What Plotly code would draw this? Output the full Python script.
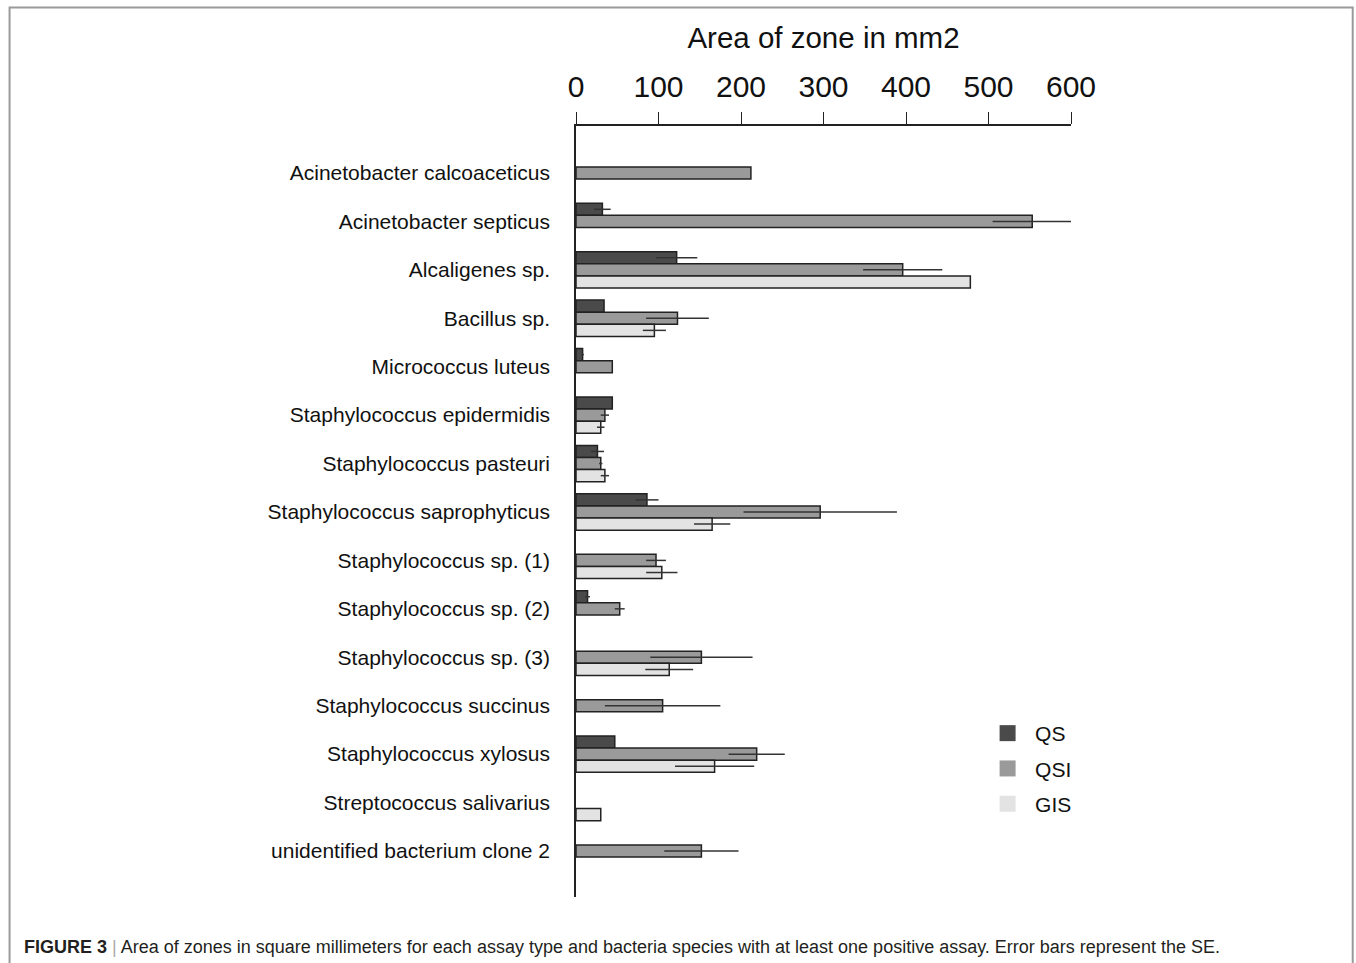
import plotly.graph_objects as go

categories = [
    "Acinetobacter calcoaceticus",
    "Acinetobacter septicus",
    "Alcaligenes sp.",
    "Bacillus sp.",
    "Micrococcus luteus",
    "Staphylococcus epidermidis",
    "Staphylococcus pasteuri",
    "Staphylococcus saprophyticus",
    "Staphylococcus sp. (1)",
    "Staphylococcus sp. (2)",
    "Staphylococcus sp. (3)",
    "Staphylococcus succinus",
    "Staphylococcus xylosus",
    "Streptococcus salivarius",
    "unidentified bacterium clone 2",
]

qs = [None, 32, 122, 34, 8, 44, 26, 86, None, 14, None, None, 47, None, None]
qs_err = [0, 10, 25, 0, 1.5, 0, 8, 14, 0, 3, 0, 0, 0, 0, 0]
qsi = [212, 553, 396, 123, 44, 35, 30, 296, 97, 53, 152, 105, 219, None, 152]
qsi_err = [0, 48, 48, 38, 0, 5, 2, 93, 12, 6, 62, 70, 34, 0, 45]
gis = [None, None, 478, 95, None, 30, 35, 165, 104, None, 113, None, 168, 30, None]
gis_err = [0, 0, 0, 14, 0, 4.5, 5, 22, 19, 0, 29, 0, 48, 0, 0]

x_ticks = [0, 100, 200, 300, 400, 500, 600]

series = [
    ("QS", qs, qs_err, "#4a4a4a"),
    ("QSI", qsi, qsi_err, "#9a9a9a"),
    ("GIS", gis, gis_err, "#e3e3e3"),
]

FONT = "Liberation Sans, Arial, Helvetica, sans-serif"

fig = go.Figure()
for name, vals, errs, col in series:
    fig.add_trace(go.Bar(
        y=categories, x=vals, orientation="h", name=name,
        marker=dict(color=col, line=dict(color="#222222", width=1.5)),
        error_x=dict(type="data", array=errs, visible=True, width=0,
                     thickness=1.5, color="#333333"),
        showlegend=False,
    ))
for name, vals, errs, col in series:
    fig.add_trace(go.Scatter(
        x=[None], y=[None], mode="markers", name=name,
        marker=dict(symbol="square", size=16, color=col, line=dict(width=0)),
        legendgroup=name, showlegend=True,
    ))

FW, FH = 1356, 963
# plot-area geometry in page pixels
L, R, T, B = 575.5, 1071.0, 126.0, 897.0
W, H = R - L, B - T
def px(p):
    return (p - L) / W
def py(q):
    return (B - q) / H

fig.update_layout(
    width=FW, height=FH,
    margin=dict(l=L, r=FW - R, t=T, b=FH - B, autoexpand=False),
    paper_bgcolor="white", plot_bgcolor="white",
    barmode="group", bargap=0.25, bargroupgap=0,
    font=dict(family=FONT, color="#111111"),
    xaxis=dict(
        side="top", range=[0, 600], tickvals=x_ticks,
        ticks="outside", ticklen=12, tickwidth=1.3, tickcolor="#222222",
        showline=True, linecolor="#222222", linewidth=1.5,
        showgrid=False, zeroline=False,
        tickfont=dict(size=30, family=FONT, color="#111111"),
        ticklabelstandoff=3,
        title=dict(text="Area of zone in mm2", font=dict(size=29.5, family=FONT, color="#111111"), standoff=13),
    ),
    yaxis=dict(
        type="category", range=[14.95, -0.97],
        showline=True, linecolor="#222222", linewidth=1.5,
        showgrid=False, zeroline=False, ticks="",
        tickfont=dict(size=21, family=FONT, color="#111111"),
        ticklabelstandoff=20,
    ),
    legend=dict(
        x=px(980), y=py(713), xanchor="left", yanchor="top",
        font=dict(size=21, family=FONT, color="#111111"),
        bgcolor="rgba(0,0,0,0)", traceorder="grouped", tracegroupgap=5,
        itemwidth=45,
    ),
    shapes=[dict(
        type="path", xref="paper", yref="paper",
        path=f"M {px(8.5)},{py(975)} L {px(8.5)},{py(7.5)} L {px(1353)},{py(7.5)} L {px(1353)},{py(975)}",
        line=dict(color="#9a9a9a", width=2),
    )],
    annotations=[dict(
        xref="paper", yref="paper", x=px(21), y=py(947), xanchor="left", yanchor="middle",
        showarrow=False,
        text="<b>FIGURE 3</b> <span style='color:#aaaaaa'>|</span> Area of zones in square millimeters for each assay type and bacteria species with at least one positive assay. Error bars represent the SE.",
        font=dict(size=18, family=FONT, color="#231f20"),
    )],
)

fig.write_html(
    "out.html",
    config={"displayModeBar": False},
    post_script="document.body.style.margin='0';document.body.style.overflow='hidden';",
)
